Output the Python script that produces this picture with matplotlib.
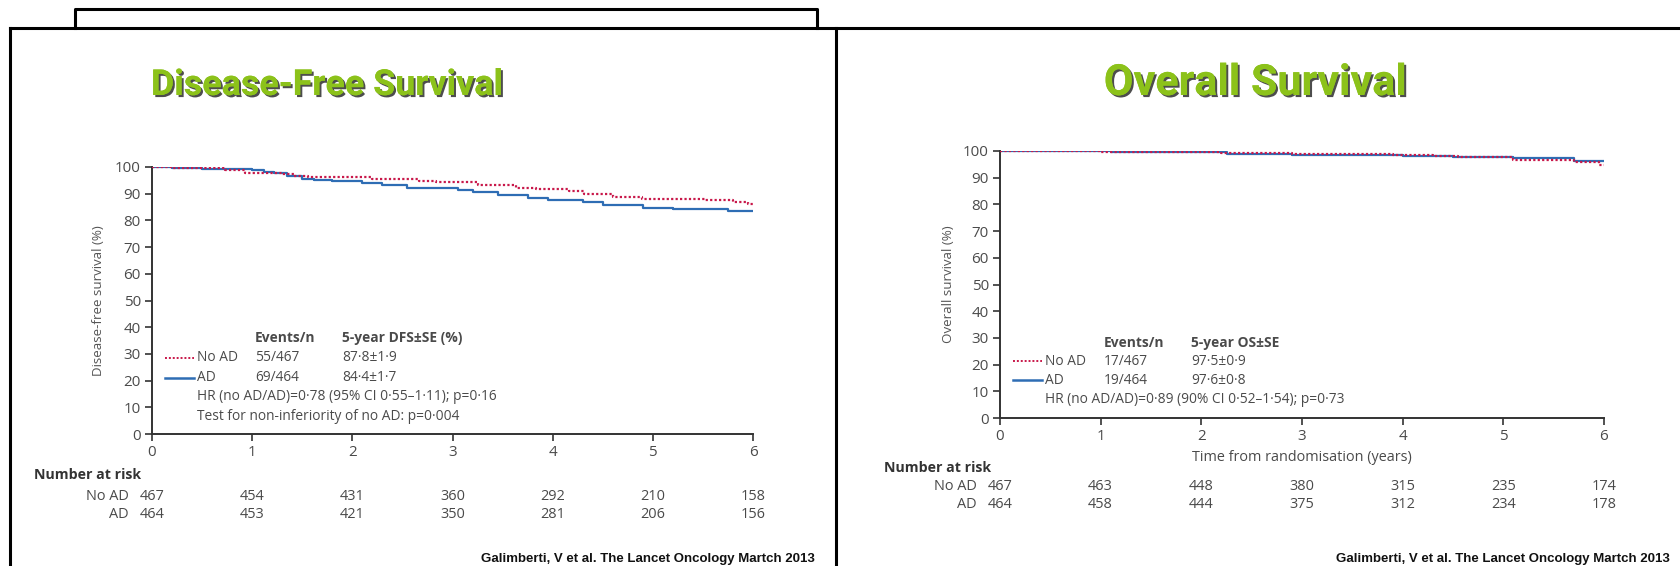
import matplotlib
matplotlib.use('Agg')
import matplotlib.pyplot as plt
from matplotlib import patheffects
from matplotlib import font_manager as fm
from matplotlib.transforms import blended_transform_factory
from matplotlib.lines import Line2D

# ── Datos ─────────────────────────────────────────────────────────────────────
risk_times = [0, 1, 2, 3, 4, 5, 6]
dfs_noad_risk = [467, 454, 431, 360, 292, 210, 158]
dfs_ad_risk = [464, 453, 421, 350, 281, 206, 156]
os_noad_risk = [467, 463, 448, 380, 315, 235, 174]
os_ad_risk = [464, 458, 444, 375, 312, 234, 178]

dfs_noad_t = [0, 0.2, 0.73, 0.93, 1.3, 1.42, 1.56, 2.2, 2.67, 2.84, 3.25, 3.63,
              3.83, 4.16, 4.31, 4.6, 4.89, 5.52, 5.8, 5.95, 6.0]
dfs_noad_s = [100, 99.5, 98.7, 97.8, 97.2, 96.6, 96.1, 95.4, 94.9, 94.2, 93.4, 92.3,
              91.7, 91.0, 90.0, 88.9, 88.0, 87.5, 86.8, 86.0, 86.0]
dfs_ad_t = [0, 0.2, 0.5, 1.0, 1.12, 1.22, 1.35, 1.5, 1.62, 1.8, 2.1, 2.3, 2.55,
            3.05, 3.2, 3.45, 3.75, 3.95, 4.3, 4.5, 4.9, 5.2, 5.75, 6.0]
dfs_ad_s = [100, 99.6, 99.1, 98.8, 98.3, 97.6, 96.5, 95.6, 95.2, 94.7, 94.1, 93.4, 92.1,
            91.2, 90.7, 89.6, 88.3, 87.6, 86.8, 85.8, 84.7, 84.2, 83.6, 83.6]

os_noad_t = [0, 1.0, 1.55, 2.2, 2.9, 3.9, 4.3, 4.55, 5.1, 5.7, 5.95, 6.0]
os_noad_s = [100, 99.8, 99.6, 99.1, 98.9, 98.6, 98.3, 97.6, 96.6, 96.0, 94.6, 94.6]
os_ad_t = [0, 1.1, 2.25, 2.9, 4.0, 4.5, 5.1, 5.7, 6.0]
os_ad_s = [100, 99.6, 98.9, 98.5, 98.2, 97.6, 97.2, 96.1, 96.1]

dfs_legend = dict(header=["Events/n", "5-year DFS\u00b1SE (%)"],
                  noad=["55/467", "87\u00b78\u00b11\u00b79"],
                  ad=["69/464", "84\u00b74\u00b11\u00b77"],
                  notes=["HR (no AD/AD)=0\u00b778 (95% CI 0\u00b755\u20131\u00b711); p=0\u00b716",
                         "Test for non-inferiority of no AD: p=0\u00b7004"])
os_legend = dict(header=["Events/n", "5-year OS\u00b1SE"],
                 noad=["17/467", "97\u00b75\u00b10\u00b79"],
                 ad=["19/464", "97\u00b76\u00b10\u00b78"],
                 notes=["HR (no AD/AD)=0\u00b789 (90% CI 0\u00b752\u20131\u00b754); p=0\u00b773"])

CITATION = "Galimberti, V et al. The Lancet Oncology Martch 2013"

# ── Estilos ───────────────────────────────────────────────────────────────────
W, H = 1680, 566
RED = "#C8184A"
BLUE = "#2E6DB4"
TXT = "#4a4a4a"
AXC = "#333333"
GREEN = "#8CC21A"

names = {f.name for f in fm.fontManager.ttflist}
BODY = "Open Sans" if "Open Sans" in names else "Liberation Sans"
TITLE = "Roboto" if "Roboto" in names else "DejaVu Sans"

plt.rcParams["font.family"] = [BODY, "DejaVu Sans"]

fig = plt.figure(figsize=(W / 100, H / 100), dpi=100)
fig.patch.set_facecolor("white")
renderer = fig.canvas.get_renderer()


def fx(px):
    return px / W


def fy(py):
    return 1 - py / H


def size_for_width(s, target_px, **kw):
    """Tamaño de fuente para que el texto s mida target_px de ancho."""
    t = fig.text(0, 0, s, fontsize=10, **kw)
    w = t.get_window_extent(renderer).width
    t.remove()
    return 10 * target_px / w


# tamaño base calibrado con la línea del HR (≈298 px en la referencia)
FS = size_for_width(dfs_legend["notes"][0], 298)
# título izquierdo ≈ 150–503 px; el derecho va un 20 % más grande
TFS = size_for_width("Disease-Free Survival", 352, family=TITLE, fontweight="bold")
CFS = size_for_width("Lancet Oncology Martch 2013", 188,
                     family="Liberation Sans", fontweight="bold")

# ── Marcos ────────────────────────────────────────────────────────────────────
frame_kw = dict(color="black", lw=2.2, transform=fig.transFigure, zorder=10)
fig.add_artist(Line2D([fx(75), fx(75), fx(817), fx(817)], [fy(28), fy(9), fy(9), fy(28)], **frame_kw))
fig.add_artist(Line2D([fx(10), fx(1680)], [fy(28), fy(28)], **frame_kw))
fig.add_artist(Line2D([fx(10), fx(10)], [fy(28), fy(566)], **frame_kw))
fig.add_artist(Line2D([fx(836), fx(836)], [fy(28), fy(566)], **frame_kw))


def draw_panel(ax, title, title_x, title_fs, ylabel, ylabel_x, curves, leg, leg_rows,
               risk, head_y, risk_rows_y, risk_head_x, risk_lab_x, xlabel, cite_x):
    ax.set_xlim(0, 6)
    ax.set_ylim(0, 100)
    for side in ["top", "right"]:
        ax.spines[side].set_visible(False)
    for side in ["left", "bottom"]:
        ax.spines[side].set_color(AXC)
        ax.spines[side].set_linewidth(1.4)
    ax.set_xticks(risk_times)
    ax.set_yticks(range(0, 101, 10))
    ax.tick_params(direction="out", length=5, width=1.2, color=AXC,
                   labelsize=FS + 1.0, labelcolor=TXT, pad=3)
    ax.set_ylabel(ylabel, fontsize=FS - 0.2, color="#555555")
    ax.yaxis.set_label_coords(ylabel_x, 0.5)
    if xlabel:
        ax.set_xlabel(xlabel, fontsize=FS + 0.5, color=TXT, labelpad=4)

    (t1, s1), (t2, s2) = curves
    ax.step(t1, s1, where="post", color=RED, lw=1.6, ls=(0, (1, 1)), zorder=3)
    ax.step(t2, s2, where="post", color=BLUE, lw=1.6, zorder=2)

    # Leyenda
    yh, y1, y2 = leg_rows[:3]
    c1, c2 = 1.03, 1.90
    ax.text(c1, yh, leg["header"][0], fontsize=FS, fontweight="bold", color=TXT, va="center")
    ax.text(c2, yh, leg["header"][1], fontsize=FS, fontweight="bold", color=TXT, va="center")
    ax.plot([0.13, 0.42], [y1, y1], color=RED, lw=1.4, ls=(0, (1, 1)))
    ax.plot([0.13, 0.42], [y2, y2], color=BLUE, lw=1.8)
    ax.text(0.45, y1, "No AD", fontsize=FS, color=TXT, va="center")
    ax.text(0.45, y2, "AD", fontsize=FS, color=TXT, va="center")
    ax.text(c1, y1, leg["noad"][0], fontsize=FS, color=TXT, va="center")
    ax.text(c2, y1, leg["noad"][1], fontsize=FS, color=TXT, va="center")
    ax.text(c1, y2, leg["ad"][0], fontsize=FS, color=TXT, va="center")
    ax.text(c2, y2, leg["ad"][1], fontsize=FS, color=TXT, va="center")
    for note, yn in zip(leg["notes"], leg_rows[3:]):
        ax.text(0.45, yn, note, fontsize=FS, color=TXT, va="center")

    # Título
    fig.text(fx(title_x), fy(95), title, fontsize=title_fs, fontweight="bold", color=GREEN,
             family=TITLE, ha="center", va="baseline",
             path_effects=[patheffects.withSimplePatchShadow(offset=(1.5, -1.5),
                                                             shadow_rgbFace="#3a3a3a", alpha=0.9),
                           patheffects.Normal()])

    # Number at risk
    tr = blended_transform_factory(ax.transData, fig.transFigure)
    fig.text(risk_head_x, fy(head_y), "Number at risk", fontsize=FS + 0.3, fontweight="bold",
             color="#333333", ha="left", va="center")
    for lab, vals, yrow in zip(["No AD", "AD"], risk, risk_rows_y):
        fig.text(risk_lab_x, fy(yrow), lab, fontsize=FS + 0.6, color=TXT, ha="right", va="center")
        for t, v in zip(risk_times, vals):
            ax.text(t, fy(yrow), str(v), transform=tr, fontsize=FS + 0.6, color=TXT,
                    ha="center", va="center")

    fig.text(cite_x, fy(562), CITATION, fontsize=CFS, fontweight="bold",
             family="Liberation Sans", color="#111111", ha="right", va="baseline")


# ── Panel izquierdo: DFS ──────────────────────────────────────────────────────
ax1 = fig.add_axes([fx(152), fy(434), fx(753 - 152), (434 - 167) / H])
draw_panel(ax1, "Disease-Free Survival", 327, TFS, "Disease-free survival (%)", -0.078,
           [(dfs_noad_t, dfs_noad_s), (dfs_ad_t, dfs_ad_s)], dfs_legend,
           [36.0, 28.5, 21.0, 13.9, 6.7],
           [dfs_noad_risk, dfs_ad_risk], 475, [496, 515], fx(34), fx(129), None, fx(815))

# ── Panel derecho: OS ─────────────────────────────────────────────────────────
ax2 = fig.add_axes([fx(1000), fy(418), fx(1604 - 1000), (418 - 151) / H])
draw_panel(ax2, "Overall Survival", 1255, TFS * 1.2, "Overall survival (%)", -0.075,
           [(os_noad_t, os_noad_s), (os_ad_t, os_ad_s)], os_legend,
           [28.1, 21.3, 14.2, 7.1],
           [os_noad_risk, os_ad_risk], 468, [487, 505], fx(884), fx(977),
           "Time from randomisation (years)", fx(1670))

plt.savefig("out.png", dpi=100, facecolor=fig.get_facecolor())
plt.close()
